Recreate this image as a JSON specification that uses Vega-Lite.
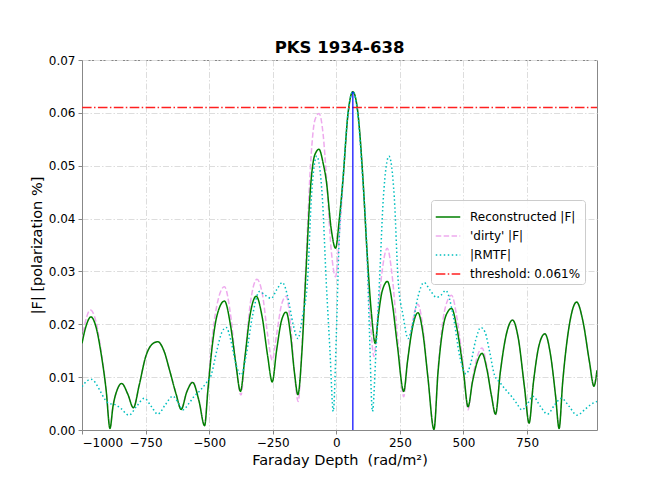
{
  "$schema": "https://vega.github.io/schema/vega-lite/v6.json",
  "autosize": "none",
  "padding": {"left": 82, "top": 60, "right": 67, "bottom": 53},
  "width": 515,
  "height": 370,
  "background": "white",
  "title": {"text": "PKS 1934-638", "font": "DejaVu Sans", "fontSize": 16.5, "fontWeight": "bold", "color": "black", "offset": -2},
  "config": {
    "view": {"stroke": "#888888", "strokeWidth": 1},
    "axis": {
      "labelFont": "DejaVu Sans", "labelFontSize": 12, "labelColor": "black",
      "titleFont": "DejaVu Sans", "titleFontSize": 14, "titleFontWeight": "normal", "titleColor": "black",
      "domainColor": "#888888", "tickColor": "#888888", "tickSize": 4, "labelPadding": 3,
      "gridColor": "#dddddd", "gridDash": [6, 2, 1.5, 2], "gridWidth": 1
    },
    "legend": {
      "labelFont": "DejaVu Sans", "labelFontSize": 12, "labelColor": "black"
    }
  },
  "data": {"values": [
    {"series": "Reconstructed |F|", "x": -1000, "y": 0.0164},
    {"series": "Reconstructed |F|", "x": -985, "y": 0.0195},
    {"series": "Reconstructed |F|", "x": -965, "y": 0.0214},
    {"series": "Reconstructed |F|", "x": -945, "y": 0.0195},
    {"series": "Reconstructed |F|", "x": -925, "y": 0.0145},
    {"series": "Reconstructed |F|", "x": -905, "y": 0.0075},
    {"series": "Reconstructed |F|", "x": -890, "y": 0.0003},
    {"series": "Reconstructed |F|", "x": -878, "y": 0.0045},
    {"series": "Reconstructed |F|", "x": -860, "y": 0.0078},
    {"series": "Reconstructed |F|", "x": -844, "y": 0.0088},
    {"series": "Reconstructed |F|", "x": -820, "y": 0.0068},
    {"series": "Reconstructed |F|", "x": -798, "y": 0.0042},
    {"series": "Reconstructed |F|", "x": -775, "y": 0.0085},
    {"series": "Reconstructed |F|", "x": -750, "y": 0.0138},
    {"series": "Reconstructed |F|", "x": -725, "y": 0.0162},
    {"series": "Reconstructed |F|", "x": -702, "y": 0.0167},
    {"series": "Reconstructed |F|", "x": -678, "y": 0.0150},
    {"series": "Reconstructed |F|", "x": -655, "y": 0.0112},
    {"series": "Reconstructed |F|", "x": -630, "y": 0.0068},
    {"series": "Reconstructed |F|", "x": -610, "y": 0.0039},
    {"series": "Reconstructed |F|", "x": -588, "y": 0.0072},
    {"series": "Reconstructed |F|", "x": -565, "y": 0.0090},
    {"series": "Reconstructed |F|", "x": -540, "y": 0.0055},
    {"series": "Reconstructed |F|", "x": -518, "y": 0.0008},
    {"series": "Reconstructed |F|", "x": -505, "y": 0.0075},
    {"series": "Reconstructed |F|", "x": -490, "y": 0.0150},
    {"series": "Reconstructed |F|", "x": -470, "y": 0.0215},
    {"series": "Reconstructed |F|", "x": -440, "y": 0.0244},
    {"series": "Reconstructed |F|", "x": -415, "y": 0.0195},
    {"series": "Reconstructed |F|", "x": -395, "y": 0.0125},
    {"series": "Reconstructed |F|", "x": -377, "y": 0.0073},
    {"series": "Reconstructed |F|", "x": -360, "y": 0.0135},
    {"series": "Reconstructed |F|", "x": -340, "y": 0.0215},
    {"series": "Reconstructed |F|", "x": -315, "y": 0.0253},
    {"series": "Reconstructed |F|", "x": -292, "y": 0.0215},
    {"series": "Reconstructed |F|", "x": -270, "y": 0.0140},
    {"series": "Reconstructed |F|", "x": -252, "y": 0.0091},
    {"series": "Reconstructed |F|", "x": -235, "y": 0.0150},
    {"series": "Reconstructed |F|", "x": -215, "y": 0.0208},
    {"series": "Reconstructed |F|", "x": -197, "y": 0.0223},
    {"series": "Reconstructed |F|", "x": -180, "y": 0.0180},
    {"series": "Reconstructed |F|", "x": -165, "y": 0.0110},
    {"series": "Reconstructed |F|", "x": -151, "y": 0.0067},
    {"series": "Reconstructed |F|", "x": -135, "y": 0.0150},
    {"series": "Reconstructed |F|", "x": -121, "y": 0.0284},
    {"series": "Reconstructed |F|", "x": -99, "y": 0.0473},
    {"series": "Reconstructed |F|", "x": -85, "y": 0.0520},
    {"series": "Reconstructed |F|", "x": -68, "y": 0.0531},
    {"series": "Reconstructed |F|", "x": -52, "y": 0.0505},
    {"series": "Reconstructed |F|", "x": -39, "y": 0.0470},
    {"series": "Reconstructed |F|", "x": -20, "y": 0.0380},
    {"series": "Reconstructed |F|", "x": -3, "y": 0.0344},
    {"series": "Reconstructed |F|", "x": 12, "y": 0.0400},
    {"series": "Reconstructed |F|", "x": 26, "y": 0.0473},
    {"series": "Reconstructed |F|", "x": 46, "y": 0.0599},
    {"series": "Reconstructed |F|", "x": 65, "y": 0.0640},
    {"series": "Reconstructed |F|", "x": 85, "y": 0.0599},
    {"series": "Reconstructed |F|", "x": 105, "y": 0.0473},
    {"series": "Reconstructed |F|", "x": 120, "y": 0.0344},
    {"series": "Reconstructed |F|", "x": 138, "y": 0.0221},
    {"series": "Reconstructed |F|", "x": 153, "y": 0.0164},
    {"series": "Reconstructed |F|", "x": 165, "y": 0.0215},
    {"series": "Reconstructed |F|", "x": 180, "y": 0.0262},
    {"series": "Reconstructed |F|", "x": 201, "y": 0.0281},
    {"series": "Reconstructed |F|", "x": 220, "y": 0.0240},
    {"series": "Reconstructed |F|", "x": 240, "y": 0.0160},
    {"series": "Reconstructed |F|", "x": 265, "y": 0.0073},
    {"series": "Reconstructed |F|", "x": 280, "y": 0.0130},
    {"series": "Reconstructed |F|", "x": 300, "y": 0.0195},
    {"series": "Reconstructed |F|", "x": 321, "y": 0.0222},
    {"series": "Reconstructed |F|", "x": 340, "y": 0.0185},
    {"series": "Reconstructed |F|", "x": 360, "y": 0.0100},
    {"series": "Reconstructed |F|", "x": 384, "y": 0.0001},
    {"series": "Reconstructed |F|", "x": 400, "y": 0.0110},
    {"series": "Reconstructed |F|", "x": 420, "y": 0.0195},
    {"series": "Reconstructed |F|", "x": 440, "y": 0.0225},
    {"series": "Reconstructed |F|", "x": 453, "y": 0.0230},
    {"series": "Reconstructed |F|", "x": 475, "y": 0.0190},
    {"series": "Reconstructed |F|", "x": 500, "y": 0.0110},
    {"series": "Reconstructed |F|", "x": 518, "y": 0.0044},
    {"series": "Reconstructed |F|", "x": 535, "y": 0.0090},
    {"series": "Reconstructed |F|", "x": 555, "y": 0.0130},
    {"series": "Reconstructed |F|", "x": 573, "y": 0.0145},
    {"series": "Reconstructed |F|", "x": 592, "y": 0.0115},
    {"series": "Reconstructed |F|", "x": 610, "y": 0.0065},
    {"series": "Reconstructed |F|", "x": 626, "y": 0.0030},
    {"series": "Reconstructed |F|", "x": 645, "y": 0.0110},
    {"series": "Reconstructed |F|", "x": 668, "y": 0.0180},
    {"series": "Reconstructed |F|", "x": 693, "y": 0.0208},
    {"series": "Reconstructed |F|", "x": 715, "y": 0.0175},
    {"series": "Reconstructed |F|", "x": 740, "y": 0.0080},
    {"series": "Reconstructed |F|", "x": 758, "y": 0.0013},
    {"series": "Reconstructed |F|", "x": 775, "y": 0.0090},
    {"series": "Reconstructed |F|", "x": 797, "y": 0.0160},
    {"series": "Reconstructed |F|", "x": 820, "y": 0.0182},
    {"series": "Reconstructed |F|", "x": 843, "y": 0.0140},
    {"series": "Reconstructed |F|", "x": 862, "y": 0.0065},
    {"series": "Reconstructed |F|", "x": 876, "y": 0.0003},
    {"series": "Reconstructed |F|", "x": 890, "y": 0.0090},
    {"series": "Reconstructed |F|", "x": 915, "y": 0.0195},
    {"series": "Reconstructed |F|", "x": 945, "y": 0.0242},
    {"series": "Reconstructed |F|", "x": 970, "y": 0.0205},
    {"series": "Reconstructed |F|", "x": 995, "y": 0.0130},
    {"series": "Reconstructed |F|", "x": 1013, "y": 0.0083},
    {"series": "Reconstructed |F|", "x": 1025, "y": 0.0113},

    {"series": "'dirty' |F|", "x": -1000, "y": 0.0170},
    {"series": "'dirty' |F|", "x": -985, "y": 0.0208},
    {"series": "'dirty' |F|", "x": -967, "y": 0.0227},
    {"series": "'dirty' |F|", "x": -945, "y": 0.0205},
    {"series": "'dirty' |F|", "x": -925, "y": 0.0150},
    {"series": "'dirty' |F|", "x": -905, "y": 0.0078},
    {"series": "'dirty' |F|", "x": -890, "y": 0.0005},
    {"series": "'dirty' |F|", "x": -878, "y": 0.0045},
    {"series": "'dirty' |F|", "x": -860, "y": 0.0078},
    {"series": "'dirty' |F|", "x": -844, "y": 0.0088},
    {"series": "'dirty' |F|", "x": -820, "y": 0.0068},
    {"series": "'dirty' |F|", "x": -798, "y": 0.0042},
    {"series": "'dirty' |F|", "x": -775, "y": 0.0085},
    {"series": "'dirty' |F|", "x": -750, "y": 0.0138},
    {"series": "'dirty' |F|", "x": -725, "y": 0.0162},
    {"series": "'dirty' |F|", "x": -702, "y": 0.0167},
    {"series": "'dirty' |F|", "x": -678, "y": 0.0150},
    {"series": "'dirty' |F|", "x": -655, "y": 0.0112},
    {"series": "'dirty' |F|", "x": -630, "y": 0.0068},
    {"series": "'dirty' |F|", "x": -610, "y": 0.0040},
    {"series": "'dirty' |F|", "x": -588, "y": 0.0073},
    {"series": "'dirty' |F|", "x": -565, "y": 0.0092},
    {"series": "'dirty' |F|", "x": -540, "y": 0.0056},
    {"series": "'dirty' |F|", "x": -518, "y": 0.0010},
    {"series": "'dirty' |F|", "x": -505, "y": 0.0080},
    {"series": "'dirty' |F|", "x": -490, "y": 0.0165},
    {"series": "'dirty' |F|", "x": -470, "y": 0.0235},
    {"series": "'dirty' |F|", "x": -440, "y": 0.0271},
    {"series": "'dirty' |F|", "x": -415, "y": 0.0215},
    {"series": "'dirty' |F|", "x": -395, "y": 0.0125},
    {"series": "'dirty' |F|", "x": -375, "y": 0.0066},
    {"series": "'dirty' |F|", "x": -358, "y": 0.0145},
    {"series": "'dirty' |F|", "x": -338, "y": 0.0240},
    {"series": "'dirty' |F|", "x": -312, "y": 0.0285},
    {"series": "'dirty' |F|", "x": -290, "y": 0.0255},
    {"series": "'dirty' |F|", "x": -270, "y": 0.0180},
    {"series": "'dirty' |F|", "x": -252, "y": 0.0132},
    {"series": "'dirty' |F|", "x": -235, "y": 0.0180},
    {"series": "'dirty' |F|", "x": -215, "y": 0.0238},
    {"series": "'dirty' |F|", "x": -197, "y": 0.0253},
    {"series": "'dirty' |F|", "x": -180, "y": 0.0200},
    {"series": "'dirty' |F|", "x": -165, "y": 0.0110},
    {"series": "'dirty' |F|", "x": -150, "y": 0.0054},
    {"series": "'dirty' |F|", "x": -135, "y": 0.0160},
    {"series": "'dirty' |F|", "x": -121, "y": 0.0300},
    {"series": "'dirty' |F|", "x": -99, "y": 0.0520},
    {"series": "'dirty' |F|", "x": -85, "y": 0.0585},
    {"series": "'dirty' |F|", "x": -68, "y": 0.0599},
    {"series": "'dirty' |F|", "x": -52, "y": 0.0560},
    {"series": "'dirty' |F|", "x": -39, "y": 0.0480},
    {"series": "'dirty' |F|", "x": -20, "y": 0.0340},
    {"series": "'dirty' |F|", "x": -3, "y": 0.0290},
    {"series": "'dirty' |F|", "x": 12, "y": 0.0370},
    {"series": "'dirty' |F|", "x": 26, "y": 0.0465},
    {"series": "'dirty' |F|", "x": 46, "y": 0.0595},
    {"series": "'dirty' |F|", "x": 65, "y": 0.0640},
    {"series": "'dirty' |F|", "x": 85, "y": 0.0599},
    {"series": "'dirty' |F|", "x": 105, "y": 0.0470},
    {"series": "'dirty' |F|", "x": 120, "y": 0.0335},
    {"series": "'dirty' |F|", "x": 135, "y": 0.0200},
    {"series": "'dirty' |F|", "x": 148, "y": 0.0139},
    {"series": "'dirty' |F|", "x": 162, "y": 0.0210},
    {"series": "'dirty' |F|", "x": 180, "y": 0.0300},
    {"series": "'dirty' |F|", "x": 200, "y": 0.0344},
    {"series": "'dirty' |F|", "x": 220, "y": 0.0290},
    {"series": "'dirty' |F|", "x": 240, "y": 0.0180},
    {"series": "'dirty' |F|", "x": 265, "y": 0.0063},
    {"series": "'dirty' |F|", "x": 280, "y": 0.0130},
    {"series": "'dirty' |F|", "x": 300, "y": 0.0205},
    {"series": "'dirty' |F|", "x": 321, "y": 0.0238},
    {"series": "'dirty' |F|", "x": 340, "y": 0.0195},
    {"series": "'dirty' |F|", "x": 360, "y": 0.0100},
    {"series": "'dirty' |F|", "x": 384, "y": 0.0003},
    {"series": "'dirty' |F|", "x": 400, "y": 0.0115},
    {"series": "'dirty' |F|", "x": 420, "y": 0.0210},
    {"series": "'dirty' |F|", "x": 440, "y": 0.0248},
    {"series": "'dirty' |F|", "x": 453, "y": 0.0255},
    {"series": "'dirty' |F|", "x": 475, "y": 0.0210},
    {"series": "'dirty' |F|", "x": 500, "y": 0.0115},
    {"series": "'dirty' |F|", "x": 518, "y": 0.0038},
    {"series": "'dirty' |F|", "x": 535, "y": 0.0095},
    {"series": "'dirty' |F|", "x": 555, "y": 0.0140},
    {"series": "'dirty' |F|", "x": 573, "y": 0.0155},
    {"series": "'dirty' |F|", "x": 592, "y": 0.0120},
    {"series": "'dirty' |F|", "x": 610, "y": 0.0065},
    {"series": "'dirty' |F|", "x": 626, "y": 0.0028},
    {"series": "'dirty' |F|", "x": 645, "y": 0.0110},
    {"series": "'dirty' |F|", "x": 668, "y": 0.0180},
    {"series": "'dirty' |F|", "x": 693, "y": 0.0208},
    {"series": "'dirty' |F|", "x": 715, "y": 0.0175},
    {"series": "'dirty' |F|", "x": 740, "y": 0.0080},
    {"series": "'dirty' |F|", "x": 758, "y": 0.0013},
    {"series": "'dirty' |F|", "x": 775, "y": 0.0090},
    {"series": "'dirty' |F|", "x": 797, "y": 0.0160},
    {"series": "'dirty' |F|", "x": 820, "y": 0.0182},
    {"series": "'dirty' |F|", "x": 843, "y": 0.0140},
    {"series": "'dirty' |F|", "x": 862, "y": 0.0065},
    {"series": "'dirty' |F|", "x": 876, "y": 0.0003},
    {"series": "'dirty' |F|", "x": 890, "y": 0.0090},
    {"series": "'dirty' |F|", "x": 915, "y": 0.0195},
    {"series": "'dirty' |F|", "x": 945, "y": 0.0242},
    {"series": "'dirty' |F|", "x": 970, "y": 0.0205},
    {"series": "'dirty' |F|", "x": 995, "y": 0.0130},
    {"series": "'dirty' |F|", "x": 1013, "y": 0.0083},
    {"series": "'dirty' |F|", "x": 1025, "y": 0.0113},

    {"series": "|RMTF|", "x": -1000, "y": 0.0082},
    {"series": "|RMTF|", "x": -982, "y": 0.0092},
    {"series": "|RMTF|", "x": -965, "y": 0.0096},
    {"series": "|RMTF|", "x": -948, "y": 0.0090},
    {"series": "|RMTF|", "x": -930, "y": 0.0075},
    {"series": "|RMTF|", "x": -910, "y": 0.0058},
    {"series": "|RMTF|", "x": -894, "y": 0.0050},
    {"series": "|RMTF|", "x": -870, "y": 0.0048},
    {"series": "|RMTF|", "x": -845, "y": 0.0040},
    {"series": "|RMTF|", "x": -816, "y": 0.0028},
    {"series": "|RMTF|", "x": -785, "y": 0.0045},
    {"series": "|RMTF|", "x": -755, "y": 0.0060},
    {"series": "|RMTF|", "x": -728, "y": 0.0045},
    {"series": "|RMTF|", "x": -702, "y": 0.0030},
    {"series": "|RMTF|", "x": -672, "y": 0.0048},
    {"series": "|RMTF|", "x": -643, "y": 0.0064},
    {"series": "|RMTF|", "x": -622, "y": 0.0052},
    {"series": "|RMTF|", "x": -604, "y": 0.0038},
    {"series": "|RMTF|", "x": -580, "y": 0.0050},
    {"series": "|RMTF|", "x": -560, "y": 0.0063},
    {"series": "|RMTF|", "x": -535, "y": 0.0075},
    {"series": "|RMTF|", "x": -513, "y": 0.0088},
    {"series": "|RMTF|", "x": -492, "y": 0.0104},
    {"series": "|RMTF|", "x": -470, "y": 0.0150},
    {"series": "|RMTF|", "x": -450, "y": 0.0185},
    {"series": "|RMTF|", "x": -433, "y": 0.0194},
    {"series": "|RMTF|", "x": -415, "y": 0.0170},
    {"series": "|RMTF|", "x": -395, "y": 0.0125},
    {"series": "|RMTF|", "x": -374, "y": 0.0104},
    {"series": "|RMTF|", "x": -355, "y": 0.0140},
    {"series": "|RMTF|", "x": -330, "y": 0.0215},
    {"series": "|RMTF|", "x": -302, "y": 0.0262},
    {"series": "|RMTF|", "x": -280, "y": 0.0255},
    {"series": "|RMTF|", "x": -256, "y": 0.0249},
    {"series": "|RMTF|", "x": -235, "y": 0.0265},
    {"series": "|RMTF|", "x": -212, "y": 0.0279},
    {"series": "|RMTF|", "x": -190, "y": 0.0250},
    {"series": "|RMTF|", "x": -170, "y": 0.0200},
    {"series": "|RMTF|", "x": -151, "y": 0.0173},
    {"series": "|RMTF|", "x": -133, "y": 0.0215},
    {"series": "|RMTF|", "x": -113, "y": 0.0284},
    {"series": "|RMTF|", "x": -98, "y": 0.0440},
    {"series": "|RMTF|", "x": -77, "y": 0.0518},
    {"series": "|RMTF|", "x": -55, "y": 0.0440},
    {"series": "|RMTF|", "x": -40, "y": 0.0284},
    {"series": "|RMTF|", "x": -25, "y": 0.0150},
    {"series": "|RMTF|", "x": -12, "y": 0.0035},
    {"series": "|RMTF|", "x": 0, "y": 0.0180},
    {"series": "|RMTF|", "x": 10, "y": 0.0344},
    {"series": "|RMTF|", "x": 26, "y": 0.0473},
    {"series": "|RMTF|", "x": 46, "y": 0.0599},
    {"series": "|RMTF|", "x": 65, "y": 0.0640},
    {"series": "|RMTF|", "x": 84, "y": 0.0599},
    {"series": "|RMTF|", "x": 104, "y": 0.0473},
    {"series": "|RMTF|", "x": 120, "y": 0.0344},
    {"series": "|RMTF|", "x": 130, "y": 0.0190},
    {"series": "|RMTF|", "x": 142, "y": 0.0035},
    {"series": "|RMTF|", "x": 156, "y": 0.0150},
    {"series": "|RMTF|", "x": 170, "y": 0.0284},
    {"series": "|RMTF|", "x": 185, "y": 0.0440},
    {"series": "|RMTF|", "x": 207, "y": 0.0518},
    {"series": "|RMTF|", "x": 228, "y": 0.0440},
    {"series": "|RMTF|", "x": 243, "y": 0.0284},
    {"series": "|RMTF|", "x": 263, "y": 0.0215},
    {"series": "|RMTF|", "x": 282, "y": 0.0173},
    {"series": "|RMTF|", "x": 300, "y": 0.0200},
    {"series": "|RMTF|", "x": 320, "y": 0.0250},
    {"series": "|RMTF|", "x": 345, "y": 0.0279},
    {"series": "|RMTF|", "x": 368, "y": 0.0265},
    {"series": "|RMTF|", "x": 394, "y": 0.0251},
    {"series": "|RMTF|", "x": 412, "y": 0.0255},
    {"series": "|RMTF|", "x": 430, "y": 0.0264},
    {"series": "|RMTF|", "x": 460, "y": 0.0215},
    {"series": "|RMTF|", "x": 485, "y": 0.0140},
    {"series": "|RMTF|", "x": 510, "y": 0.0106},
    {"series": "|RMTF|", "x": 528, "y": 0.0125},
    {"series": "|RMTF|", "x": 548, "y": 0.0170},
    {"series": "|RMTF|", "x": 568, "y": 0.0194},
    {"series": "|RMTF|", "x": 585, "y": 0.0185},
    {"series": "|RMTF|", "x": 602, "y": 0.0150},
    {"series": "|RMTF|", "x": 622, "y": 0.0104},
    {"series": "|RMTF|", "x": 643, "y": 0.0090},
    {"series": "|RMTF|", "x": 668, "y": 0.0075},
    {"series": "|RMTF|", "x": 690, "y": 0.0063},
    {"series": "|RMTF|", "x": 710, "y": 0.0050},
    {"series": "|RMTF|", "x": 730, "y": 0.0038},
    {"series": "|RMTF|", "x": 752, "y": 0.0050},
    {"series": "|RMTF|", "x": 773, "y": 0.0064},
    {"series": "|RMTF|", "x": 802, "y": 0.0045},
    {"series": "|RMTF|", "x": 830, "y": 0.0030},
    {"series": "|RMTF|", "x": 858, "y": 0.0047},
    {"series": "|RMTF|", "x": 885, "y": 0.0060},
    {"series": "|RMTF|", "x": 915, "y": 0.0045},
    {"series": "|RMTF|", "x": 946, "y": 0.0028},
    {"series": "|RMTF|", "x": 980, "y": 0.0040},
    {"series": "|RMTF|", "x": 1000, "y": 0.0048},
    {"series": "|RMTF|", "x": 1025, "y": 0.0054},

    {"series": "threshold: 0.061%", "x": -1000, "y": 0.061},
    {"series": "threshold: 0.061%", "x": 1025, "y": 0.061}
  ]},
  "encoding": {
    "x": {"field": "x", "type": "quantitative", "scale": {"domain": [-1000, 1025], "nice": false, "zero": false},
          "axis": {"title": "Faraday Depth \u00a0(rad/m²)", "titleFontSize": 14.5, "values": [-1000, -750, -500, -250, 0, 250, 500, 750], "format": "d", "grid": true, "titlePadding": 5}},
    "y": {"field": "y", "type": "quantitative", "scale": {"domain": [0, 0.07], "nice": false, "zero": false},
          "axis": {"title": "|F| [polarization %]", "titleFontSize": 14.5, "values": [0, 0.01, 0.02, 0.03, 0.04, 0.05, 0.06, 0.07], "format": ".2f", "grid": true, "titlePadding": 4}},
    "color": {"field": "series", "type": "nominal",
      "scale": {"domain": ["Reconstructed |F|", "'dirty' |F|", "|RMTF|", "threshold: 0.061%"], "range": ["#008000", "#eeaaee", "#00bfbf", "#ff2020"]},
      "legend": {"title": null, "orient": "none", "legendX": 349, "legendY": 140, "symbolType": "stroke", "symbolSize": 600, "symbolStrokeWidth": 1.5,
                 "fillColor": "rgba(255,255,255,0.85)", "strokeColor": "#cccccc", "cornerRadius": 3, "padding": 4, "rowPadding": -3, "labelOffset": 9}},
    "strokeDash": {"field": "series", "type": "nominal",
      "scale": {"domain": ["Reconstructed |F|", "'dirty' |F|", "|RMTF|", "threshold: 0.061%"], "range": [[1, 0], [5.5, 2.4], [1.5, 2.5], [9.6, 2.4, 1.5, 2.4]]},
      "legend": {"title": null, "orient": "none", "legendX": 349, "legendY": 140, "symbolType": "stroke", "symbolSize": 600, "symbolStrokeWidth": 1.5,
                 "fillColor": "rgba(255,255,255,0.85)", "strokeColor": "#cccccc", "cornerRadius": 3, "padding": 4, "rowPadding": -3, "labelOffset": 9}}
  },
  "layer": [
    {"transform": [{"filter": {"field": "series", "equal": "'dirty' |F|"}}], "mark": {"type": "line", "interpolate": "monotone", "strokeWidth": 1.5, "clip": true}},
    {"transform": [{"filter": {"field": "series", "equal": "Reconstructed |F|"}}], "mark": {"type": "line", "interpolate": "monotone", "strokeWidth": 1.5, "clip": true}},
    {"transform": [{"filter": {"field": "series", "equal": "|RMTF|"}}], "mark": {"type": "line", "interpolate": "monotone", "strokeWidth": 1.5, "clip": true}},
    {"transform": [{"filter": {"field": "series", "equal": "threshold: 0.061%"}}], "mark": {"type": "line", "strokeWidth": 1.5, "clip": true}},
    {"data": {"values": [{"x": 65, "y": 0.064}]},
     "mark": {"type": "rule", "color": "#0000ff", "strokeWidth": 1.2},
     "encoding": {"x": {"field": "x", "type": "quantitative"}, "y": {"datum": 0}, "y2": {"field": "y"}, "color": null, "strokeDash": null}}
  ]
}
